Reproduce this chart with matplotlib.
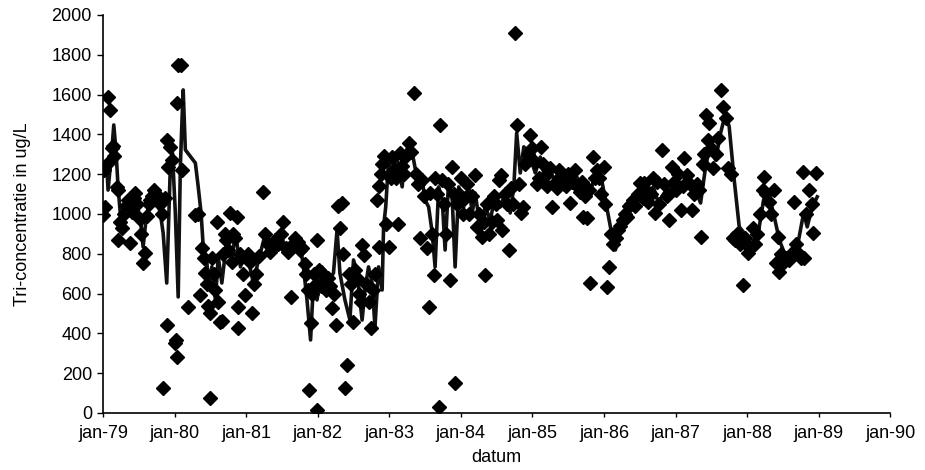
import matplotlib
matplotlib.use("Agg")
import matplotlib.pyplot as plt

plt.rcParams['font.family'] = ['Liberation Sans', 'DejaVu Sans']

# metingen (losse monsters)
meet_datum = [
    1979.00, 1979.01, 1979.03, 1979.05, 1979.07, 1979.10, 1979.12, 1979.14, 1979.16, 1979.19,
    1979.21, 1979.21, 1979.24, 1979.26, 1979.29, 1979.32, 1979.35, 1979.38, 1979.40, 1979.43,
    1979.45, 1979.48, 1979.51, 1979.53, 1979.56, 1979.59, 1979.62, 1979.64, 1979.66, 1979.69,
    1979.71, 1979.73, 1979.76, 1979.79, 1979.82, 1979.84, 1979.87, 1979.90, 1979.90, 1979.91,
    1979.94, 1979.97, 1980.01, 1980.02, 1980.03, 1980.03, 1980.05, 1980.09, 1980.10, 1980.19,
    1980.29, 1980.33, 1980.36, 1980.38, 1980.41, 1980.43, 1980.45, 1980.47, 1980.50, 1980.50,
    1980.52, 1980.55, 1980.57, 1980.59, 1980.61, 1980.64, 1980.66, 1980.68, 1980.70, 1980.72,
    1980.75, 1980.78, 1980.80, 1980.82, 1980.85, 1980.87, 1980.89, 1980.89, 1980.91, 1980.93,
    1980.96, 1980.99, 1981.02, 1981.05, 1981.08, 1981.11, 1981.14, 1981.18, 1981.24, 1981.27,
    1981.30, 1981.33, 1981.36, 1981.40, 1981.44, 1981.48, 1981.52, 1981.55, 1981.58, 1981.62,
    1981.65, 1981.68, 1981.72, 1981.75, 1981.78, 1981.82, 1981.84, 1981.86, 1981.88, 1981.90,
    1981.92, 1981.95, 1981.97, 1981.99, 1981.99, 1982.02, 1982.05, 1982.08, 1982.11, 1982.14,
    1982.17, 1982.20, 1982.23, 1982.26, 1982.29, 1982.31, 1982.34, 1982.36, 1982.38, 1982.41,
    1982.43, 1982.46, 1982.49, 1982.52, 1982.55, 1982.58, 1982.60, 1982.62, 1982.65, 1982.68,
    1982.71, 1982.74, 1982.77, 1982.80, 1982.83, 1982.85, 1982.86, 1982.88, 1982.90, 1982.93,
    1982.96, 1982.99,
    1983.02, 1983.04, 1983.07, 1983.10, 1983.12, 1983.15, 1983.18, 1983.21, 1983.24, 1983.27,
    1983.30, 1983.34, 1983.37, 1983.40, 1983.43, 1983.46, 1983.49, 1983.52, 1983.55, 1983.57,
    1983.60, 1983.62, 1983.64, 1983.67, 1983.69, 1983.71, 1983.74, 1983.76, 1983.79, 1983.82,
    1983.85, 1983.88, 1983.90, 1983.92, 1983.94, 1983.97, 1984.00, 1984.03, 1984.06, 1984.09,
    1984.12, 1984.16, 1984.20, 1984.23, 1984.26, 1984.30, 1984.32, 1984.34, 1984.37, 1984.40,
    1984.43, 1984.46, 1984.49, 1984.51, 1984.53, 1984.56, 1984.58, 1984.61, 1984.64, 1984.67,
    1984.70, 1984.73, 1984.76, 1984.79, 1984.81, 1984.84, 1984.87, 1984.90, 1984.94, 1984.97,
    1985.00, 1985.03, 1985.06, 1985.09, 1985.12, 1985.15, 1985.18, 1985.21, 1985.24, 1985.27,
    1985.30, 1985.34, 1985.37, 1985.40, 1985.44, 1985.47, 1985.50, 1985.53, 1985.56, 1985.59,
    1985.62, 1985.66, 1985.69, 1985.71, 1985.74, 1985.76, 1985.79, 1985.81, 1985.84, 1985.87,
    1985.90, 1985.93, 1985.96, 1986.00, 1986.02, 1986.04, 1986.07, 1986.10, 1986.13, 1986.17,
    1986.20, 1986.23, 1986.27, 1986.30, 1986.32, 1986.35, 1986.38, 1986.41, 1986.44, 1986.47,
    1986.51, 1986.54, 1986.56, 1986.59, 1986.62, 1986.66, 1986.69, 1986.71, 1986.74, 1986.77,
    1986.81, 1986.84, 1986.88, 1986.91, 1986.95, 1986.98,
    1987.01, 1987.04, 1987.07, 1987.10, 1987.12, 1987.16, 1987.20, 1987.23, 1987.26, 1987.30,
    1987.33, 1987.36, 1987.38, 1987.40, 1987.43, 1987.45, 1987.47, 1987.50, 1987.53, 1987.57,
    1987.60, 1987.63, 1987.67, 1987.70, 1987.74, 1987.78, 1987.80, 1987.83, 1987.86, 1987.90,
    1987.94, 1987.97, 1988.01, 1988.04, 1988.08, 1988.11, 1988.14, 1988.18, 1988.22, 1988.23,
    1988.27, 1988.30, 1988.34, 1988.37, 1988.40, 1988.43, 1988.45, 1988.48, 1988.52, 1988.55,
    1988.58, 1988.62, 1988.65, 1988.69, 1988.72, 1988.75, 1988.78, 1988.79, 1988.83, 1988.86,
    1988.90, 1988.92, 1988.96,
]
meet_waarde = [
    995, 1221, 1035, 1250, 1590, 1523, 1330, 1340, 1290, 1135,
    1120, 870, 960, 930, 1000, 1040, 1070, 854, 1010, 1080,
    1105, 1050, 975, 900, 754, 804, 990, 1050, 1070, 1090,
    1120, 1105, 1080, 1050, 1000, 126, 1080, 1372, 442, 1236,
    1337, 1270, 352, 365, 281, 1558, 1749, 1749, 1221, 533,
    995, 1000, 593, 829, 780, 703, 650, 540, 75, 502,
    780, 700, 620, 960, 560, 457, 462, 800, 900, 870,
    820, 1005, 760, 900, 880, 985, 533, 427, 800, 780,
    700, 593, 800, 760, 502, 650, 700, 790, 1111, 900,
    850, 810, 830, 870, 850, 900, 960, 830, 810, 583,
    850, 880, 860, 820, 830, 750, 700, 620, 116, 450,
    600, 700, 650, 870, 15, 720, 640, 700, 620, 680,
    640, 528, 600, 442, 1040, 930, 1055, 800, 126, 241,
    700, 650, 457, 720, 680, 600, 560, 844, 794, 650,
    560, 427, 620, 700, 1070, 834, 1140, 1200, 1250, 1290,
    950, 834,
    1180, 1286, 1220, 1180, 950, 1306, 1240, 1200, 1290, 1357,
    1310, 1608, 1200, 1150, 879, 1170, 1090, 829, 533, 1105,
    900, 693, 1180, 1100, 30, 1447, 1170, 1050, 900, 1150,
    668, 1236, 1100, 151, 1050, 1100, 1180, 1000, 1080, 1150,
    1000, 1090, 1196, 935, 1000, 884, 960, 693, 1050, 900,
    960, 1090, 1050, 970, 1171, 1196, 920, 1100, 1050, 819,
    1130, 1050, 1910, 1447, 1150, 1005, 1035, 1250, 1300, 1397,
    1330, 1260, 1150, 1180, 1337, 1250, 1190, 1140, 1230, 1035,
    1150, 1130, 1220, 1190, 1150, 1140, 1200, 1055, 1160, 1220,
    1140, 1110, 1160, 985, 1090, 980, 1120, 653, 1286, 1180,
    1220, 1180, 1100, 1236, 1050, 633, 734, 900, 850, 880,
    920, 940, 970, 1000, 985, 1040, 1050, 1070, 1040, 1100,
    1156, 1080, 1156, 1120, 1060, 1100, 1180, 1005, 1161, 1050,
    1322, 1150, 1090, 970, 1236, 1160,
    1120, 1200, 1020, 1140, 1281, 1196, 1150, 1020, 1100, 1150,
    1120, 884, 1250, 1300, 1497, 1372, 1457, 1330, 1230, 1300,
    1380, 1623, 1538, 1480, 1231, 1200, 879, 870, 900, 850,
    643, 880, 804, 830, 930, 850, 900, 1000, 1120, 1186,
    1100, 1060, 1000, 1120, 754, 884, 709, 800, 760, 780,
    769, 800, 1060, 850, 800, 780, 1211, 779, 1000, 1120,
    1050, 904, 1206,
]

# lopend gemiddelde (lijn)
lijn_datum = [
    1979.00, 1979.05, 1979.07, 1979.12, 1979.15, 1979.18, 1979.21, 1979.24, 1979.26, 1979.31,
    1979.35, 1979.40, 1979.45, 1979.52, 1979.56, 1979.61, 1979.66, 1979.73, 1979.80, 1979.84,
    1979.89, 1979.94, 1979.97, 1980.01, 1980.05, 1980.08, 1980.11, 1980.12, 1980.15, 1980.29,
    1980.33, 1980.37, 1980.40, 1980.45, 1980.47, 1980.52, 1980.57, 1980.61, 1980.66, 1980.73,
    1980.80, 1980.85, 1980.92, 1980.96, 1981.03, 1981.10, 1981.15, 1981.20, 1981.27, 1981.31,
    1981.38, 1981.48, 1981.57, 1981.66, 1981.76, 1981.80, 1981.85, 1981.90, 1981.94, 1981.99,
    1982.06, 1982.13, 1982.22, 1982.27, 1982.31, 1982.38, 1982.45, 1982.50, 1982.55, 1982.62,
    1982.66, 1982.71, 1982.76, 1982.80, 1982.85, 1982.90, 1982.92, 1982.95, 1982.99, 1983.04,
    1983.11, 1983.18, 1983.22, 1983.29, 1983.34, 1983.41, 1983.46, 1983.50, 1983.55, 1983.60,
    1983.64, 1983.69, 1983.74, 1983.78, 1983.83, 1983.88, 1983.92, 1983.97, 1984.04, 1984.11,
    1984.16, 1984.20, 1984.27, 1984.34, 1984.41, 1984.48, 1984.55, 1984.62, 1984.69, 1984.74,
    1984.78, 1984.83, 1984.88, 1984.95, 1985.04, 1985.11, 1985.18, 1985.25, 1985.34, 1985.43,
    1985.53, 1985.62, 1985.69, 1985.76, 1985.83, 1985.90, 1985.95, 1986.02, 1986.09, 1986.16,
    1986.21, 1986.28, 1986.35, 1986.42, 1986.51, 1986.60, 1986.69, 1986.76, 1986.84, 1986.93,
    1987.02, 1987.09, 1987.18, 1987.28, 1987.35, 1987.42, 1987.49, 1987.56, 1987.63, 1987.70,
    1987.75, 1987.82, 1987.89, 1987.96, 1988.03, 1988.10, 1988.17, 1988.23, 1988.30, 1988.38,
    1988.45, 1988.52, 1988.59, 1988.66, 1988.72, 1988.79, 1988.84, 1988.91, 1988.98,
]
lijn_waarde = [
    1221, 1256, 1120, 1306, 1447, 1322, 1136, 1005, 920, 985,
    1055, 1005, 1070, 985, 834, 1005, 1055, 1105, 1005, 904,
    653, 1236, 1306, 1005, 583, 1236, 1538, 1623, 1322, 1256,
    1136, 1005, 834, 769, 633, 734, 568, 784, 653, 870,
    769, 904, 734, 804, 769, 653, 734, 804, 904, 804,
    834, 904, 804, 870, 834, 734, 568, 367, 653, 568,
    734, 653, 703, 920, 703, 568, 467, 769, 703, 467,
    618, 734, 653, 432, 734, 618, 935, 1035, 1271, 1206,
    1271, 1136, 1306, 1357, 1271, 1136, 1171, 1070, 1035, 904,
    734, 1136, 1070, 819, 1171, 1070, 734, 1136, 1035, 1136,
    1005, 1105, 935, 1035, 970, 1086, 1035, 1105, 1005, 1136,
    1407, 1206, 1337, 1306, 1206, 1286, 1171, 1221, 1136, 1206,
    1136, 1186, 1136, 1070, 1136, 1236, 1206, 1070, 935, 819,
    920, 970, 1005, 1070, 1120, 1105, 1136, 1055, 1105, 1136,
    1120, 1136, 1171, 1120, 1055, 1236, 1357, 1271, 1407, 1507,
    1437, 1171, 935, 904, 834, 870, 935, 1070, 1105, 985,
    870, 804, 784, 819, 870, 1005, 935, 1035, 1086,
]

jaren = list(range(1979, 1991))
jaar_labels = ['jan-%02d' % (j % 100) for j in jaren]

fig = plt.figure(figsize=(9.25, 4.70), dpi=100)
ax = fig.add_axes([0.1114, 0.1213, 0.851, 0.847])

ax.plot(lijn_datum, lijn_waarde, color='#111111', linewidth=2.6, zorder=2)
ax.plot(meet_datum, meet_waarde, linestyle='none', marker='D', markersize=6.8,
        color='black', zorder=3)

ax.set_xlim(1979, 1990)
ax.set_ylim(0, 2000)
ax.set_xticks(jaren)
ax.set_xticklabels(jaar_labels)
ax.set_yticks(range(0, 2001, 200))

for kant in ['top', 'right']:
    ax.spines[kant].set_visible(False)
ax.spines['left'].set_linewidth(1.2)
ax.spines['bottom'].set_linewidth(1.2)
ax.tick_params(axis='y', direction='out', length=4, width=1, labelsize=13, pad=4)
ax.tick_params(axis='x', direction='out', length=3, width=1, labelsize=13, pad=6)

ax.set_xlabel('datum', fontsize=13, labelpad=5)
ax.set_ylabel('Tri-concentratie in ug/L', fontsize=13, labelpad=15)

fig.savefig('out.png', dpi=100)
